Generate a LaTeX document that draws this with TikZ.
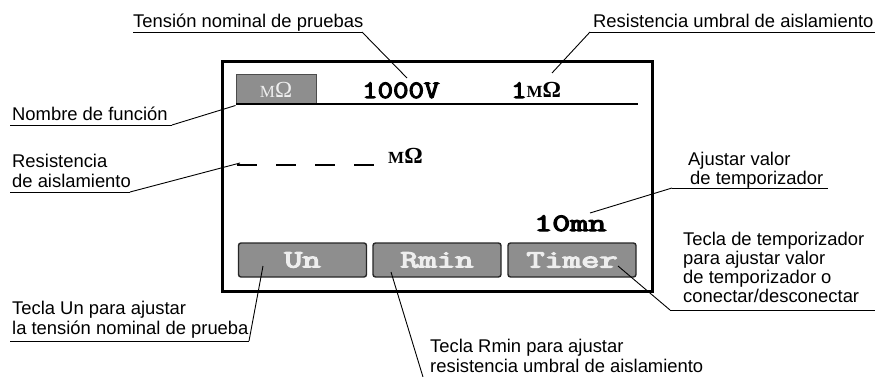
\documentclass[tikz,border=0pt]{standalone}
\usepackage{fontspec}
\usepackage{graphicx}
\setmainfont{Liberation Sans}
\newfontfamily\seriff{Liberation Serif}
\newfontfamily\courf{Latin Modern Mono}[FakeBold=4]
\definecolor{keygray}{HTML}{8E8E8E}
\definecolor{keytext}{HTML}{EEEEEE}
\newcommand{\smM}{{\fontsize{17}{17}\selectfont M}}
\newcommand{\ohm}{{\fontsize{23}{23}\selectfont Ω}}
\newcommand{\courbig}{\courf\fontsize{25}{25}\selectfont}
\begin{document}
\begin{tikzpicture}[x=1pt,y=-1pt,
  lbl/.style={anchor=base west, inner sep=0pt, font=\fontsize{18.4}{20}\selectfont},
  lead/.style={line width=0.9pt},
  uline/.style={line width=0.9pt},
  keybox/.style={draw=black!85, line width=1.4pt, fill=keygray, rounded corners=2.5pt,
    minimum width=128pt, minimum height=34pt, inner sep=0pt, text=keytext,
    font=\courbig},
  disp/.style={inner sep=0pt, anchor=base west},
  monobig/.style={font=\courbig},
  serifbig/.style={font=\seriff\bfseries}]
\useasboundingbox (0,0) rectangle (875,377);

% screen frame
\draw[line width=3pt] (222,62) rectangle (652,291);
% function box
\node[draw=black!70, line width=1pt, fill=keygray, minimum width=80pt, minimum height=30pt,
  inner sep=0pt, text=keytext, font=\seriff] (fn) at (276,90) {\smM\ohm};
\coordinate (hl) at (236,104);
\coordinate (hr) at (638,104);
\draw[line width=2pt] (hl) -- (hr);

% display values
\node[disp, monobig] (volt) at (362,98) {\scalebox{1.2}[1]{1000V}};
\node[disp, serifbig] (rth) at (511,98) {{\courbig\scalebox{1.2}[1]{1}}\smM\ohm};
\coordinate (d1) at (237,165);
\coordinate (d2) at (374,165);
\draw[line width=1.5pt, dash pattern=on 20pt off 19pt] (d1) -- (d2);
\node[disp, serifbig] (riso) at (388,163) {\smM\ohm};
\node[disp, monobig] (tval) at (534,231) {\scalebox{1.4}[1]{10mn}};

% keys
\node[keybox] (un) at (302.5,260) {\scalebox{1.42}[1]{Un}};
\node[keybox] (rmin) at (437,260) {\scalebox{1.42}[1]{Rmin}};
\node[keybox] (timer) at (572,260) {\scalebox{1.42}[1]{Timer}};

% labels
\node[lbl] (t1) at (133,28) {Tensión nominal de pruebas};
\coordinate (t1a) at (133,32);
\coordinate (t1b) at (362,32);
\draw[uline] (t1a) -- (t1b);
\coordinate (t1e) at (407,78);
\draw[lead] (t1b) -- (t1e);

\node[lbl] (t2) at (593,28) {Resistencia umbral de aislamiento};
\coordinate (t2a) at (590,32);
\coordinate (t2b) at (875,32);
\draw[uline] (t2a) -- (t2b);
\coordinate (t2e) at (552,73);
\draw[lead] (t2a) -- (t2e);

\node[lbl] (t3) at (12,121) {Nombre de función};
\coordinate (t3a) at (10,125);
\coordinate (t3b) at (172,125);
\draw[uline] (t3a) -- (t3b);
\draw[lead] (t3b) -- (fn.south west);

\node[lbl] (t4) at (12,167) {Resistencia};
\node[lbl] (t4b) at (12,187) {de aislamiento};
\coordinate (t4c) at (10,192);
\coordinate (t4d) at (130,192);
\draw[uline] (t4c) -- (t4d);
\coordinate (t4e) at (240,163);
\draw[lead] (t4d) -- (t4e);

\node[lbl] (t5) at (688,165) {Ajustar valor};
\node[lbl] (t5b) at (690,184) {de temporizador};
\coordinate (t5c) at (672,188);
\coordinate (t5d) at (828,188);
\draw[uline] (t5c) -- (t5d);
\coordinate (t5e) at (590,213);
\draw[lead] (t5c) -- (t5e);

\node[lbl] (t6) at (683,245) {Tecla de temporizador};
\node[lbl] (t6b) at (683,264) {para ajustar valor};
\node[lbl] (t6c) at (683,283) {de temporizador o};
\node[lbl] (t6d) at (683,302) {conectar/desconectar};
\coordinate (t6e) at (670,310);
\coordinate (t6f) at (875,310);
\draw[uline] (t6e) -- (t6f);
\coordinate (t6g) at (618,266);
\draw[lead] (t6e) -- (t6g);

\node[lbl] (t7) at (12,314) {Tecla Un para ajustar};
\node[lbl] (t7b) at (12,334) {la tensión nominal de prueba};
\coordinate (t7c) at (10,341);
\coordinate (t7d) at (249,341);
\draw[uline] (t7c) -- (t7d);
\coordinate (t7e) at (263,266);
\draw[lead] (t7d) -- (t7e);

\node[lbl] (t8) at (430,352) {Tecla Rmin para ajustar};
\node[lbl] (t8b) at (430,372) {resistencia umbral de aislamiento};
\coordinate (t8c) at (391,272);
\coordinate (t8d) at (423,377);
\draw[lead] (t8c) -- (t8d);
\end{tikzpicture}
\end{document}
